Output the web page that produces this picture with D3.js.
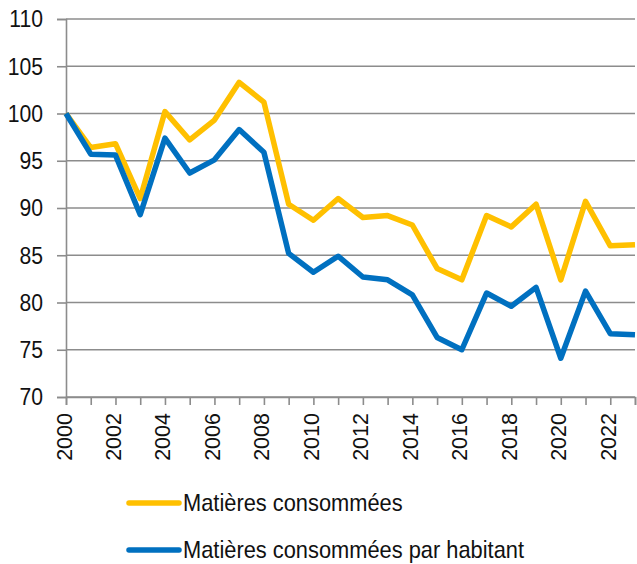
<!DOCTYPE html>
<html>
<head>
<meta charset="utf-8">
<script src="https://cdn.jsdelivr.net/npm/d3@7"></script>
<style>
  html, body { margin: 0; padding: 0; background: #fff; }
  svg { display: block; }
  text { font-family: "Liberation Sans", Arial, sans-serif; fill: #111; }
</style>
</head>
<body>
<svg id="chart" width="637" height="564"></svg>
<script>
// Index of material consumption, base 100 in 2000
const years = d3.range(2000, 2024);
const matieres = [100, 96.4, 96.8, 91.0, 100.2, 97.2, 99.3, 103.3, 101.2, 90.4, 88.7, 91.0,
                  89.0, 89.2, 88.2, 83.6, 82.4, 89.2, 88.0, 90.4, 82.4, 90.7, 86.0, 86.1];
const parHabitant = [100, 95.7, 95.6, 89.3, 97.4, 93.7, 95.1, 98.3, 95.9, 85.2, 83.2, 84.9,
                     82.7, 82.4, 80.8, 76.3, 75.0, 81.0, 79.6, 81.6, 74.1, 81.2, 76.7, 76.6];
const yTicks = [70, 75, 80, 85, 90, 95, 100, 105, 110];
const xLabels = d3.range(2000, 2024, 2);
const seriesNames = ["Matières consommées", "Matières consommées par habitant"];
const seriesColors = ["#FFC000", "#0070C0"];

const svg = d3.select("#chart");
const plotLeft = 66, plotRight = 635, plotTop = 19, plotBottom = 397;

const x = d3.scaleLinear().domain([2000, 2023]).range([plotLeft, plotRight]);
const y = d3.scaleLinear().domain([70, 110]).range([plotBottom, plotTop]);

const gridColor = "#8c8c8c";

// horizontal gridlines
svg.append("g")
  .selectAll("line")
  .data(yTicks)
  .join("line")
  .attr("x1", plotLeft).attr("x2", plotRight)
  .attr("y1", d => y(d)).attr("y2", d => y(d))
  .attr("stroke", gridColor).attr("stroke-width", 1.6);

// y axis
const yAxis = svg.append("g")
  .attr("transform", `translate(${plotLeft},0)`)
  .call(d3.axisLeft(y).tickValues(yTicks).tickSize(9).tickFormat(d3.format("d")));
yAxis.select(".domain").attr("stroke", gridColor).attr("stroke-width", 1.6);
yAxis.selectAll(".tick line").attr("stroke", gridColor).attr("stroke-width", 1.6);
yAxis.selectAll(".tick text")
  .attr("x", null).attr("dy", null)
  .attr("font-size", 24)
  .attr("text-anchor", "end")
  .attr("dominant-baseline", "central")
  .attr("transform", "translate(-23,0) scale(0.88,1)")
  .style("font-family", "'Liberation Sans', Arial, sans-serif")
  .attr("fill", "#111");

// x axis
const xAxis = svg.append("g")
  .attr("transform", `translate(0,${plotBottom})`)
  .call(d3.axisBottom(x).tickValues(years).tickSize(8)
    .tickFormat(d => xLabels.includes(d) ? String(d) : ""));
xAxis.select(".domain").attr("stroke", gridColor).attr("stroke-width", 1.6);
xAxis.selectAll(".tick line").attr("stroke", gridColor).attr("stroke-width", 1.6);
xAxis.selectAll(".tick text")
  .attr("y", null).attr("dy", null)
  .attr("font-size", 21.5)
  .attr("text-anchor", "end")
  .attr("dominant-baseline", "central")
  .attr("transform", "translate(-2,16) rotate(-90)")
  .style("font-family", "'Liberation Sans', Arial, sans-serif")
  .attr("fill", "#111");

// series lines
const line = d3.line().x((d, i) => x(years[i])).y(d => y(d));
[matieres, parHabitant].forEach((vals, k) => {
  svg.append("path")
    .datum(vals)
    .attr("d", line)
    .attr("fill", "none")
    .attr("stroke", seriesColors[k])
    .attr("stroke-width", 5.5)
    .attr("stroke-linejoin", "round");
});

// legend
const legend = svg.append("g");
const legendY = [503, 550];
seriesNames.forEach((name, k) => {
  legend.append("line")
    .attr("x1", 129).attr("x2", 179)
    .attr("y1", legendY[k]).attr("y2", legendY[k])
    .attr("stroke", seriesColors[k])
    .attr("stroke-width", 5.5)
    .attr("stroke-linecap", "round");
  legend.append("text")
    .attr("transform", `translate(183,${legendY[k]}) scale(0.91,1)`)
    .attr("dominant-baseline", "central")
    .attr("font-size", 24)
    .text(name);
});
</script>
</body>
</html>
